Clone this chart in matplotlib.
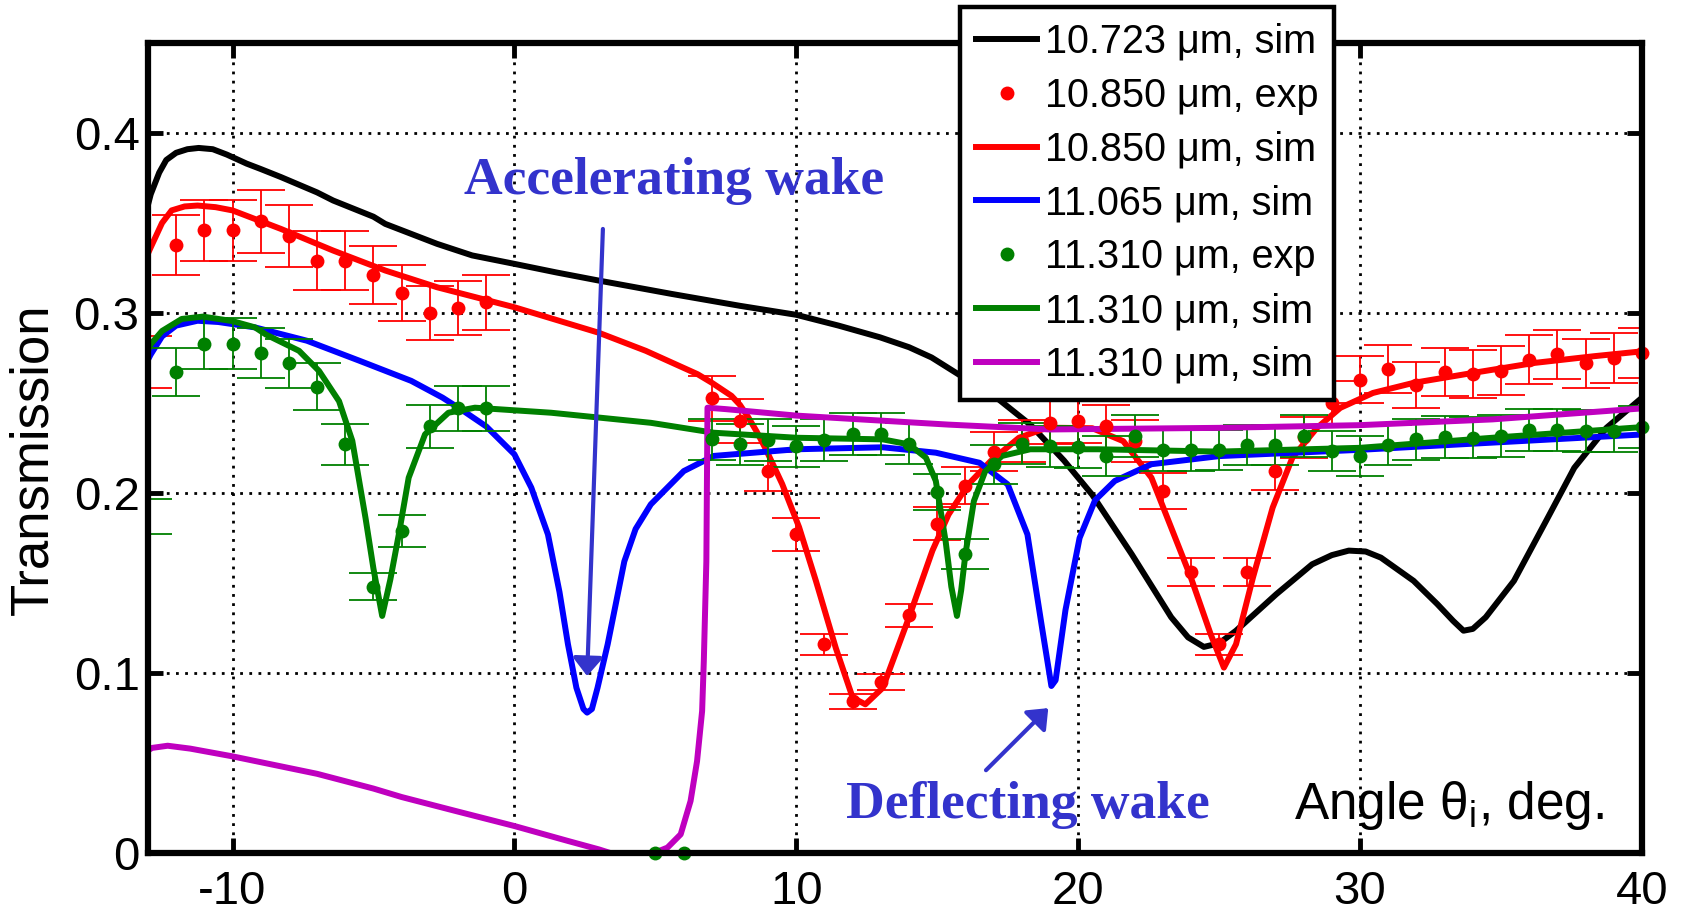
import matplotlib
matplotlib.use('Agg')
import matplotlib.pyplot as plt
from matplotlib.lines import Line2D

plt.rcParams['font.family'] = ['Liberation Sans', 'DejaVu Sans']
plt.rcParams['axes.unicode_minus'] = False
plt.rcParams['mathtext.fontset'] = 'custom'
plt.rcParams['mathtext.rm'] = 'Liberation Sans'

# simulated curves
sim_black_x = [-13, -12.9, -12.6, -12.35, -12.0, -11.6, -11.2, -10.7, -10.2, -9.5, -9, -8.28, -7, -6.43, -5,
               -4.58, -2.74, -1.5, 0, 1.5, 3, 5.58, 8, 10, 11.5, 12.97, 14, 14.8, 15.93, 17.1, 18.3, 19.5, 20.5,
               21.9, 23.3, 23.9, 24.46, 25.0, 25.6, 27.03, 28.3, 29.0, 29.6, 30.2, 30.74, 31.9, 32.74, 33.3,
               33.67, 34.0, 34.46, 35.46, 36.6, 37.6, 38.74, 40]
sim_black_y = [0.360, 0.366, 0.378, 0.385, 0.389, 0.391, 0.3917, 0.391, 0.388, 0.383, 0.380, 0.3755, 0.367,
               0.3625, 0.3535, 0.3495, 0.3384, 0.332, 0.3273, 0.3225, 0.318, 0.3106, 0.304, 0.299, 0.293, 0.2865,
               0.281, 0.2753, 0.2642, 0.253, 0.238, 0.218, 0.199, 0.166, 0.131, 0.1198, 0.1145, 0.1165, 0.1235,
               0.1438, 0.1604, 0.1655, 0.168, 0.1675, 0.1641, 0.1512, 0.1383, 0.129, 0.1235, 0.1245, 0.131,
               0.1512, 0.1845, 0.214, 0.2362, 0.2529]

sim_red_x = [-13, -12.9, -12.5, -12.16, -11.7, -11.24, -10.6, -10, -8.28, -6.43, -4.58, -2.74, 0, 3, 4.66, 6.5,
             7.0, 7.43, 7.7, 8, 8.3, 8.6, 8.9, 9.5, 10.1, 10.7, 11.4, 12.0, 12.45, 13.07, 14.0, 14.83, 15.4,
             16.1, 16.9, 17.9, 18.9, 20.5, 21.6, 22.6, 23.3, 24.0, 24.7, 25.17, 25.6, 26.2, 26.9, 27.6, 28.46,
             29.3, 30.46, 31.9, 34, 36.2, 38.3, 40]
sim_red_y = [0.333, 0.3365, 0.350, 0.357, 0.3592, 0.3597, 0.3588, 0.357, 0.3467, 0.3347, 0.3236, 0.3143, 0.3032,
             0.289, 0.279, 0.266, 0.2613, 0.2568, 0.254, 0.249, 0.242, 0.234, 0.225, 0.205, 0.181, 0.151, 0.114,
             0.0863, 0.0826, 0.0918, 0.131, 0.168, 0.188, 0.2048, 0.2178, 0.2307, 0.2363, 0.236, 0.2288, 0.2085,
             0.1808, 0.153, 0.1216, 0.103, 0.116, 0.153, 0.1919, 0.2196, 0.236, 0.2473, 0.2556, 0.2612, 0.2667,
             0.2723, 0.276, 0.2787]

sim_blue_x = [-13, -12.9, -12.5, -12, -11.24, -10.5, -9.2, -7.36, -5.5, -3.66, -2.55, -1.81, -1, 0, 0.6, 1.19,
              1.6, 1.9, 2.2, 2.45, 2.58, 2.75, 2.95, 3.31, 3.9, 4.3, 4.84, 6.01, 7.07, 10, 13.07, 14.95, 16.5,
              17.5, 18.2, 18.7, 19.05, 19.2, 19.55, 20.05, 20.6, 21.3, 22.6, 25, 30, 34.7, 40]
sim_blue_y = [0.274, 0.277, 0.287, 0.293, 0.2957, 0.295, 0.292, 0.2846, 0.2735, 0.2623, 0.253, 0.2456, 0.237,
              0.2215, 0.203, 0.177, 0.145, 0.116, 0.0918, 0.08, 0.078, 0.08, 0.0918, 0.116, 0.162, 0.18, 0.1937,
              0.2122, 0.2206, 0.2243, 0.2254, 0.2224, 0.2168, 0.2048, 0.177, 0.127, 0.0928, 0.096, 0.135, 0.175,
              0.196, 0.2067, 0.216, 0.2205, 0.224, 0.228, 0.2325]

sim_green_x = [-13, -12.9, -12.5, -11.8, -11.05, -10, -9.2, -8.81, -7.64, -6.93, -6.22, -5.75, -5.28, -5.0,
               -4.69, -4.4, -4.1, -3.75, -3.17, -2.34, -1.4, 1.3, 4.84, 7.07, 10, 13.07, 14, 14.6, 14.95, 15.3,
               15.5, 15.7, 15.85, 16.0, 16.3, 16.7, 17.3, 18.3, 20.7, 25, 30, 34.7, 40]
sim_green_y = [0.279, 0.2827, 0.290, 0.2967, 0.298, 0.2955, 0.292, 0.288, 0.279, 0.2678, 0.251, 0.229, 0.186,
               0.158, 0.1317, 0.152, 0.177, 0.2085, 0.2326, 0.2446, 0.2474, 0.2446, 0.239, 0.2335, 0.2307, 0.2298,
               0.227, 0.2196, 0.2067, 0.173, 0.148, 0.1317, 0.146, 0.166, 0.1955, 0.212, 0.2206, 0.2243, 0.2243,
               0.223, 0.2251, 0.2307, 0.2366]

sim_magenta_x = [-13, -12.85, -12.3, -11.5, -10, -7, -5, -4, -2, 0, 1.9, 3.0, 3.4, 4.95, 5.43, 5.9, 6.25, 6.48,
                 6.66, 6.72, 6.81, 6.85, 7.5, 10, 15.4, 19, 25, 30, 34.7, 40]
sim_magenta_y = [0.057, 0.0584, 0.0596, 0.058, 0.0537, 0.044, 0.0358, 0.0311, 0.023, 0.015, 0.0067, 0.002, 0.0,
                 0.0, 0.003, 0.0104, 0.0289, 0.051, 0.0789, 0.1067, 0.162, 0.2474, 0.2466, 0.243, 0.238, 0.2353,
                 0.2362, 0.2377, 0.2409, 0.247]

# measured points
exp_red_x = [-13, -12, -11, -10, -9, -8, -7, -6, -5, -4, -3, -2, -1,
             7, 8, 9, 10, 11, 12, 13, 14, 15, 16, 17, 18, 19, 20, 21, 22, 23, 24, 25, 26, 27, 28, 29, 30,
             31, 32, 33, 34, 35, 36, 37, 38, 39, 40]
exp_red_y = [0.273, 0.338, 0.346, 0.346, 0.351, 0.343, 0.329, 0.329, 0.321, 0.311, 0.300, 0.303, 0.306,
             0.2526, 0.240, 0.212, 0.177, 0.116, 0.0844, 0.095, 0.132, 0.183, 0.204, 0.223, 0.229, 0.239, 0.240,
             0.237, 0.229, 0.201, 0.156, 0.116, 0.156, 0.212, 0.231, 0.250, 0.263, 0.269, 0.260, 0.267, 0.266,
             0.268, 0.274, 0.277, 0.272, 0.275, 0.278]
exp_red_err = [0.0145, 0.0167, 0.0169, 0.017, 0.0176, 0.0172, 0.0163, 0.0163, 0.016, 0.0155, 0.015, 0.015, 0.0152,
               0.0125, 0.012, 0.011, 0.0092, 0.0058, 0.0042, 0.0047, 0.0066, 0.0092, 0.0102, 0.011, 0.0115, 0.012,
               0.012, 0.0118, 0.0115, 0.010, 0.0078, 0.0058, 0.0078, 0.0106, 0.0115, 0.0125, 0.0131, 0.0134,
               0.013, 0.0133, 0.0133, 0.0134, 0.0137, 0.0138, 0.0136, 0.0137, 0.0139]

exp_green_x = [-13, -12, -11, -10, -9, -8, -7, -6, -5, -4, -3, -2, -1, 5, 6,
               7, 8, 9, 10, 11, 12, 13, 14, 15, 16, 17, 18, 19, 20, 21, 22, 23, 24, 25, 26, 27, 28, 29, 30,
               31, 32, 33, 34, 35, 36, 37, 38, 39, 40]
exp_green_y = [0.187, 0.267, 0.283, 0.283, 0.278, 0.272, 0.259, 0.227, 0.148, 0.179, 0.237, 0.247, 0.247, 0.0, 0.0,
               0.2298, 0.227, 0.2295, 0.226, 0.2295, 0.2326, 0.2326, 0.2274, 0.2007, 0.166, 0.216, 0.2274, 0.226,
               0.2254, 0.2205, 0.2316, 0.2237, 0.2237, 0.224, 0.2266, 0.2266, 0.2316, 0.2233, 0.2205, 0.2266,
               0.2298, 0.231, 0.2307, 0.2316, 0.2348, 0.2348, 0.2344, 0.2344, 0.2366]
exp_green_err = [0.0095, 0.0133, 0.0141, 0.0141, 0.0139, 0.0136, 0.013, 0.0114, 0.0074, 0.009, 0.0118, 0.0123, 0.0123,
                 0.0, 0.0, 0.0115, 0.0113, 0.0115, 0.0113, 0.0115, 0.0116, 0.0116, 0.0114, 0.010, 0.0083, 0.0108,
                 0.0114, 0.0113, 0.0113, 0.011, 0.0116, 0.0112, 0.0112, 0.0112, 0.0113, 0.0113, 0.0116, 0.0112,
                 0.011, 0.0113, 0.0115, 0.0116, 0.0115, 0.0116, 0.0117, 0.0117, 0.0117, 0.0117, 0.0118]

legend_labels = ['10.723 \u03bcm, sim', '10.850 \u03bcm, exp', '10.850 \u03bcm, sim', '11.065 \u03bcm, sim',
                 '11.310 \u03bcm, exp', '11.310 \u03bcm, sim', '11.310 \u03bcm, sim']
x_ticks = [-10, 0, 10, 20, 30, 40]
y_ticks = [0, 0.1, 0.2, 0.3, 0.4]
y_ticklabels = ['0', '0.1', '0.2', '0.3', '0.4']

c_red = '#ff0000'
c_blue = '#0000ff'
c_green = '#008000'
c_mag = '#bf00bf'
c_note = '#3333cc'
lw = 4.3
ms = 10
xmin, xmax = -13, 40


def exp_points(ax, xs, ys, errs, color):
    ax.errorbar(xs, ys, yerr=errs, fmt='none', ecolor=color, elinewidth=1.3, capsize=17.5, capthick=1.3)
    # markers are not clipped to the box, but points sitting on the left edge are hidden
    px = [x for x in xs if x > xmin]
    py = [y for x, y in zip(xs, ys) if x > xmin]
    ax.plot(px, py, 'o', color=color, ms=ms, mew=0, clip_on=False, zorder=2.5)


fig = plt.figure(figsize=(16.83, 9.13), dpi=100)
ax = fig.add_axes([0.0879, 0.0657, 0.8877, 0.8872])

ax.plot(sim_black_x, sim_black_y, color='k', lw=lw)
exp_points(ax, exp_red_x, exp_red_y, exp_red_err, c_red)
ax.plot(sim_red_x, sim_red_y, color=c_red, lw=lw)
ax.plot(sim_blue_x, sim_blue_y, color=c_blue, lw=lw)
exp_points(ax, exp_green_x, exp_green_y, exp_green_err, c_green)
ax.plot(sim_green_x, sim_green_y, color=c_green, lw=lw)
ax.plot(sim_magenta_x, sim_magenta_y, color=c_mag, lw=lw)

ax.set_xlim(xmin, xmax)
ax.set_ylim(0, 0.45)
ax.set_xticks(x_ticks)
ax.set_xticklabels([str(t) for t in x_ticks])
ax.set_yticks(y_ticks)
ax.set_yticklabels(y_ticklabels)
ax.tick_params(direction='in', length=11, width=3.5, labelsize=34, top=True, right=True)
ax.tick_params(axis='x', pad=12)
ax.tick_params(axis='y', pad=6)
for s in ax.spines.values():
    s.set_linewidth(4.5)
    s.set_zorder(3)
ax.grid(True, color='k', lw=2, linestyle=(0, (1, 2.3)))

fig.text(0.02, 0.497, 'Transmission', rotation=90, fontsize=38, ha='center', va='center')
ax.text(27.67, 0.0189, 'Angle \u03b8$_\\mathrm{i}$, deg.', fontsize=37, ha='left', va='baseline')

ax.text(-1.78, 0.3663, 'Accelerating wake', color=c_note, fontsize=38.5, fontweight='bold',
        family='Liberation Serif', ha='left', va='baseline')
ax.text(11.75, 0.0196, 'Deflecting wake', color=c_note, fontsize=38.5, fontweight='bold',
        family='Liberation Serif', ha='left', va='baseline')
arrow = dict(arrowstyle='-|>,head_length=1.1,head_width=0.9', mutation_scale=10, color=c_note, lw=3,
             shrinkA=0, shrinkB=0)
ax.annotate('', xy=(2.58, 0.0983), xytext=(3.14, 0.3467), arrowprops=arrow)
ax.annotate('', xy=(18.94, 0.0805), xytext=(16.73, 0.046), arrowprops=arrow)

handles = [
    Line2D([], [], color='k', lw=lw),
    Line2D([], [], color=c_red, marker='o', ms=ms, mew=0, ls='none'),
    Line2D([], [], color=c_red, lw=lw),
    Line2D([], [], color=c_blue, lw=lw),
    Line2D([], [], color=c_green, marker='o', ms=ms, mew=0, ls='none'),
    Line2D([], [], color=c_green, lw=lw),
    Line2D([], [], color=c_mag, lw=lw),
]
leg = fig.legend(handles, legend_labels, loc='upper left', bbox_to_anchor=(960 / 1683, 1 - 7 / 913),
                 bbox_transform=fig.transFigure, borderaxespad=0, fontsize=28.5, handlelength=1.55,
                 handletextpad=0.19, borderpad=0.4, labelspacing=0.4, fancybox=False, framealpha=1,
                 edgecolor='k', numpoints=1)
leg.get_frame().set_linewidth(3.2)

fig.savefig('out.png', dpi=100)
